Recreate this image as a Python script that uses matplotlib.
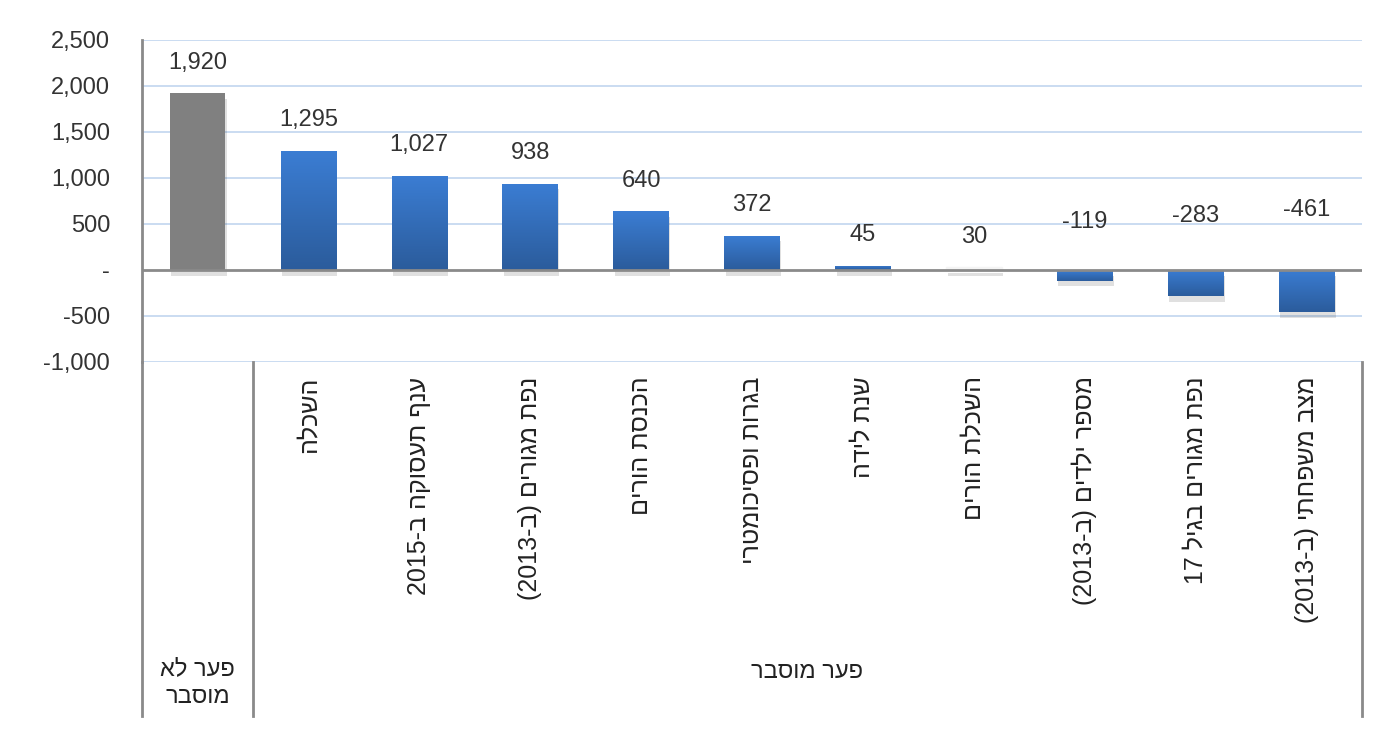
import numpy as np
import matplotlib
matplotlib.use("Agg")
import matplotlib.pyplot as plt
from matplotlib import patheffects as pe
from matplotlib.colors import LinearSegmentedColormap

plt.rcParams['font.family'] = ['Liberation Sans', 'DejaVu Sans']

# values of the decomposition
values = [1920, 1295, 1027, 938, 640, 372, 45, 30, -119, -283, -461]
# category labels (logical order) and their visual (left-to-right) form for matplotlib
labels_logical = ['', 'השכלה', 'ענף תעסוקה ב-2015', 'נפת מגורים (ב-2013)', 'הכנסת הורים',
                  'בגרות ופסיכומטרי', 'שנת לידה', 'השכלת הורים', 'מספר ילדים (ב-2013)',
                  'נפת מגורים בגיל 17', 'מצב משפחתי (ב-2013)']
labels_visual = ['', 'הלכשה', '2015-ב הקוסעת ףנע', '(2013-ב) םירוגמ תפנ', 'םירוה תסנכה',
                 'ירטמוכיספו תורגב', 'הדיל תנש', 'םירוה תלכשה', '(2013-ב) םידלי רפסמ',
                 '17 ליגב םירוגמ תפנ', '(2013-ב) יתחפשמ בצמ']
group_unexpl = 'אל רעפ\nרבסומ'   # פער לא מוסבר
group_expl = 'רבסומ רעפ'          # פער מוסבר
yticks = [-1000, -500, 0, 500, 1000, 1500, 2000, 2500]

fs = 17
fig = plt.figure(figsize=(14, 7.35), dpi=100)
ax = fig.add_axes([0.1014, 0.5075, 0.8715, 0.4381])

x = np.arange(len(values))
ax.set_xlim(-0.5, len(values) - 0.5)
ax.set_ylim(-1000, 2500)

for g in yticks:
    if g != 0:
        ax.axhline(g, color='#c6d9f0', lw=1.3, zorder=0)

grad = LinearSegmentedColormap.from_list('b', ['#2b5c9c', '#3b7dd3'])
shadow = [pe.SimplePatchShadow(offset=(1, -4), shadow_rgbFace='#000000', alpha=0.12), pe.Normal()]
for i, v in enumerate(values):
    if i == 0:
        b = ax.bar(x[i], v, width=0.5, color='#808080', zorder=2)[0]
        b.set_path_effects(shadow)
    else:
        b = ax.bar(x[i], v, width=0.5, color='#3269b5', zorder=2)[0]
        b.set_path_effects(shadow)
        if v == 30:
            b.set_color('#f4f4f4')
        else:
            lo, hi = min(0, v), max(0, v)
            img = ax.imshow(np.linspace(1, 0, 64).reshape(-1, 1), cmap=grad, aspect='auto',
                            extent=[x[i] - 0.25, x[i] + 0.25, lo, hi], origin='upper', zorder=3)
            img.set_clip_path(b)
    ly = v + 330 if v > 0 else 480 + 0.37 * abs(v)
    ax.text(x[i], ly, f'{v:,}', ha='center', va='center', fontsize=fs, color='#333333', zorder=4)

ax.set_xlim(-0.5, len(values) - 0.5)
ax.set_ylim(-1000, 2500)
ax.axhline(0, color='#8a8a8a', lw=2, zorder=5)

ax.set_yticks(yticks)
ax.set_yticklabels(['-' if t == 0 else f'{t:,}' for t in yticks], fontsize=fs, color='#333333')
ax.tick_params(axis='y', length=0, pad=23)
ax.set_xticks([])
for s in ['top', 'right', 'bottom']:
    ax.spines[s].set_visible(False)
ax.spines['left'].set_color('#8a8a8a')
ax.spines['left'].set_linewidth(2)
ax.spines['left'].set_bounds(-1000, 2500)

# category axis area
bt = ax.get_xaxis_transform()
for xi, lab in zip(x, labels_visual):
    if lab:
        ax.text(xi, -0.045, lab, transform=bt, rotation=90, ha='center', va='top',
                fontsize=18, color='#222222')
for xl in [-0.5, 0.5, len(values) - 0.5]:
    ax.plot([xl, xl], [0, -1.10], transform=bt, color='#8a8a8a', lw=2, clip_on=False)
ax.text(0, -0.997, group_unexpl, transform=bt, ha='center', va='center', fontsize=fs,
        color='#222222', linespacing=1.35)
ax.text((0.5 + len(values) - 0.5) / 2, -0.963, group_expl, transform=bt, ha='center',
        va='center', fontsize=fs, color='#222222')

fig.savefig('out.png', dpi=100)
